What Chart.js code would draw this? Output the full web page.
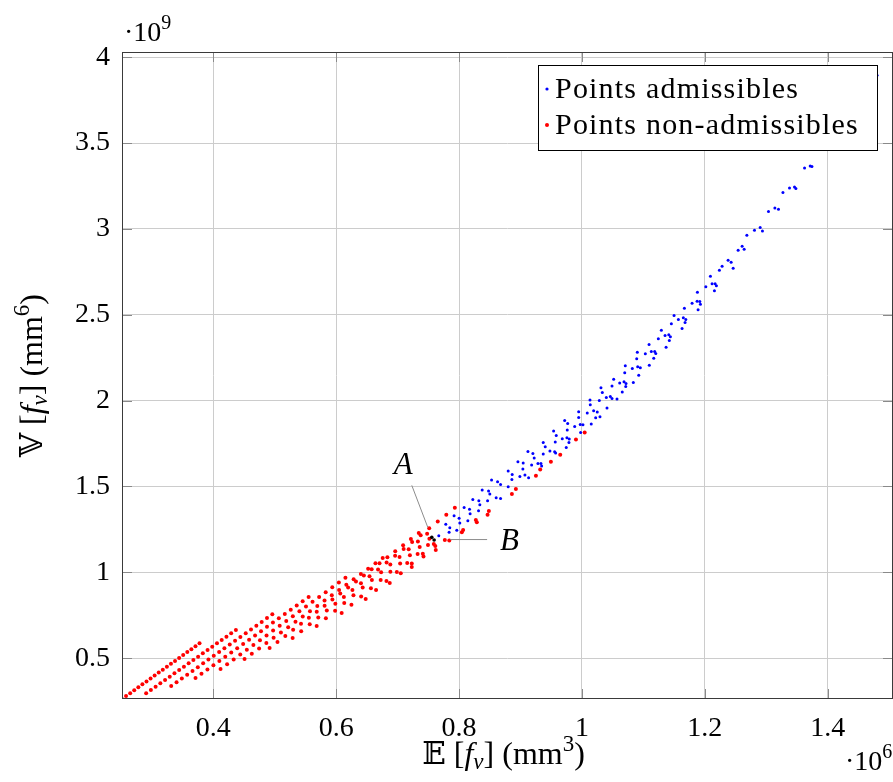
<!DOCTYPE html>
<html>
<head>
<meta charset="utf-8">
<script src="https://cdn.jsdelivr.net/npm/chart.js@4.4.1/dist/chart.umd.min.js"></script>
<style>
html, body { margin: 0; padding: 0; background: #fff; overflow: hidden; }
#wrap { width: 893px; height: 782px; overflow: hidden; }
</style>
</head>
<body>
<div id="wrap"><canvas id="myChart" width="897" height="782"></canvas></div>
<script>
// values in units of 10^6 mm^3 (x) and 10^9 mm^6 (y)

const xTicks = [0.4, 0.6, 0.8, 1, 1.2, 1.4];
const yTicks = [0.5, 1, 1.5, 2, 2.5, 3, 3.5, 4];

// non-admissible points (red)
const xNon = [
  0.2513, 0.2579, 0.2646, 0.2712, 0.2779, 0.2845, 0.2912, 0.2978, 0.3044, 0.3111, 0.3177, 0.3244, 0.3310, 0.3376, 0.3443, 0.3509, 0.3576, 0.3642, 0.3709, 0.3775,
  0.2906, 0.2983, 0.3060, 0.3137, 0.3214, 0.3290, 0.3367, 0.3444, 0.3521, 0.3598, 0.3675, 0.3752, 0.3829, 0.3906, 0.3982, 0.4059, 0.4136, 0.4213, 0.4290, 0.4367,
  0.3314, 0.3401, 0.3487, 0.3574, 0.3661, 0.3747, 0.3834, 0.3920, 0.4007, 0.4094, 0.4180, 0.4267, 0.4354, 0.4440, 0.4527, 0.4613, 0.4700, 0.4787, 0.4873, 0.4960,
  0.3710, 0.3807, 0.3904, 0.4001, 0.4098, 0.4194, 0.4291, 0.4388, 0.4485, 0.4582, 0.4679, 0.4776, 0.4873, 0.4970, 0.5066, 0.5163, 0.5260, 0.5357, 0.5454, 0.5551,
  0.4117, 0.4224, 0.4331, 0.4438, 0.4545, 0.4652, 0.4759, 0.4866, 0.4973, 0.5080, 0.5187, 0.5294, 0.5401, 0.5508, 0.5615, 0.5722, 0.5829, 0.5936, 0.6043, 0.6150,
  0.4508, 0.4626, 0.4745, 0.4863, 0.4981, 0.5100, 0.5218, 0.5337, 0.5455, 0.5573, 0.5692, 0.5810, 0.5928, 0.6047, 0.6165, 0.6284, 0.6402, 0.6520, 0.6639, 0.6757,
  0.4916, 0.5044, 0.5172, 0.5299, 0.5427, 0.5555, 0.5683, 0.5811, 0.5938, 0.6066, 0.6194, 0.6322, 0.6450, 0.6577, 0.6705, 0.6833, 0.6961, 0.7089, 0.7216, 0.7344,
  0.5291, 0.5430, 0.5569, 0.5708, 0.5847, 0.5986, 0.6125, 0.6264, 0.6403, 0.6542, 0.6681, 0.6820, 0.6959, 0.7098, 0.7236, 0.7375, 0.7514, 0.7653, 0.7792, 0.7931,
  0.5682, 0.5832, 0.5982, 0.6131, 0.6281, 0.6431, 0.6581, 0.6731, 0.6881, 0.7031, 0.7180, 0.7330, 0.7480,
  0.6089, 0.6248, 0.6406, 0.6565, 0.6724, 0.6882, 0.7041, 0.7200, 0.7359, 0.7517,
  0.6480, 0.6649, 0.6818, 0.6987, 0.7156, 0.7325, 0.7494,
  0.6872, 0.7051, 0.7230, 0.7410, 0.7589,
  0.7230, 0.7421, 0.7613,
  0.7621,
  0.7768, 0.7841, 0.8045, 0.8066, 0.8273, 0.8289, 0.8464, 0.8485, 0.8860, 0.8925,
  0.9251, 0.9321, 0.9495, 0.9647, 0.9903, 1.0045
];
const yNon = [
  0.2625, 0.2796, 0.2966, 0.3137, 0.3308, 0.3478, 0.3649, 0.3819, 0.3990, 0.4161, 0.4331, 0.4502, 0.4673, 0.4843, 0.5014, 0.5184, 0.5355, 0.5526, 0.5696, 0.5867,
  0.2957, 0.3151, 0.3345, 0.3539, 0.3733, 0.3926, 0.4120, 0.4314, 0.4508, 0.4702, 0.4896, 0.5090, 0.5284, 0.5478, 0.5671, 0.5865, 0.6059, 0.6253, 0.6447, 0.6641,
  0.3382, 0.3602, 0.3821, 0.4041, 0.4261, 0.4480, 0.4700, 0.4920, 0.5139, 0.5359, 0.5578, 0.5798, 0.6018, 0.6237, 0.6457, 0.6677, 0.6896, 0.7116, 0.7336, 0.7555,
  0.3848, 0.4096, 0.4344, 0.4592, 0.4840, 0.5089, 0.5337, 0.5585, 0.5833, 0.6081, 0.6329, 0.6577, 0.6825, 0.7073, 0.7321, 0.7570, 0.7818, 0.8066, 0.8314, 0.8562,
  0.4371, 0.4651, 0.4930, 0.5210, 0.5490, 0.5770, 0.6049, 0.6329, 0.6609, 0.6889, 0.7168, 0.7448, 0.7728, 0.8008, 0.8287, 0.8567, 0.8847, 0.9127, 0.9406, 0.9686,
  0.4953, 0.5262, 0.5572, 0.5881, 0.6191, 0.6500, 0.6810, 0.7119, 0.7429, 0.7738, 0.8047, 0.8357, 0.8666, 0.8976, 0.9285, 0.9595, 0.9904, 1.0214, 1.0523, 1.0832,
  0.5594, 0.5946, 0.6299, 0.6651, 0.7003, 0.7356, 0.7708, 0.8060, 0.8413, 0.8765, 0.9117, 0.9470, 0.9822, 1.0174, 1.0527, 1.0879, 1.1231, 1.1584, 1.1936, 1.2288,
  0.6176, 0.6575, 0.6974, 0.7373, 0.7773, 0.8172, 0.8571, 0.8970, 0.9369, 0.9768, 1.0168, 1.0567, 1.0966, 1.1365, 1.1764, 1.2163, 1.2562, 1.2962, 1.3361, 1.3760,
  0.6874, 0.7321, 0.7769, 0.8216, 0.8663, 0.9111, 0.9558, 1.0005, 1.0453, 1.0900, 1.1347, 1.1795, 1.2242,
  0.7631, 0.8112, 0.8593, 0.9074, 0.9555, 1.0036, 1.0517, 1.0998, 1.1479, 1.1960,
  0.8446, 0.8970, 0.9494, 1.0018, 1.0542, 1.1065, 1.1589,
  0.9377, 0.9944, 1.0511, 1.1077, 1.1644,
  1.0308, 1.0924, 1.1540,
  1.1298,
  1.1880, 1.1851, 1.2328, 1.2462, 1.3044, 1.2910, 1.3353, 1.3568, 1.4558, 1.4849,
  1.5623, 1.5995, 1.6438, 1.6845, 1.7742, 1.8149
];

// admissible points (blue)
const xAdm = [
  0.7670, 0.7784, 0.7849, 0.7838, 0.7919, 0.7963, 0.8001, 0.8012, 0.8082, 0.8143,
  0.8170, 0.8180, 0.8224, 0.8317, 0.8322, 0.8338, 0.8376, 0.8464, 0.8480, 0.8529,
  0.8627, 0.8676, 0.8800, 0.8501, 0.8604, 0.8676, 0.8800,
  1.0310, 1.0332, 1.0397, 1.0131, 1.0283, 1.0136, 1.0408, 0.9947, 1.0191, 1.0250,
  1.0087, 0.9947, 1.0294, 1.0224, 0.9719, 0.9768, 0.9973, 1.0017, 0.9882, 1.0152,
  0.9761, 0.9539, 0.9582, 0.9979, 0.9680, 0.9756, 0.9794, 0.9566, 0.9789, 0.9370,
  0.9403, 0.9745, 0.9121, 0.9202, 0.9479, 0.9556, 0.9572, 0.9223, 0.9370, 0.8958,
  0.9044, 0.9284, 0.9333, 0.9344, 0.9181, 0.9039, 0.8865, 0.8990, 0.9072, 0.9132,
  0.8860,
  1.2238, 1.2092, 1.2017, 1.2119, 1.2168, 1.2189, 1.2157, 1.1880, 1.1793, 1.1875,
  1.1919, 1.1929, 1.1891, 1.1668, 1.1500, 1.1570, 1.1651, 1.1691, 1.1679, 1.1630,
  1.1456, 1.1293, 1.1353, 1.1414, 1.1440, 1.1423, 1.1244, 1.1370, 1.1093, 1.1032,
  1.1130, 1.1185, 1.1202, 1.1169, 1.0902, 1.0892, 1.1097, 1.0706, 1.0820, 1.0908,
  1.0951, 1.0925, 1.0697, 1.0517, 1.0615, 1.0685, 1.0718, 1.0713, 1.0837, 1.0490,
  1.0657, 1.0462, 1.0490, 1.0571,
  1.2282, 1.2380, 1.2429, 1.2462, 1.2543, 1.2608, 1.2641,
  1.2685, 1.2809, 1.2902, 1.2939, 1.3037, 1.3141, 1.3200, 1.3272, 1.3379, 1.3461,
  1.3483, 1.3624, 1.3716, 1.3744, 1.4804, 1.5064
];
const yAdm = [
  1.2130, 1.2794, 1.2596, 1.2328, 1.3295, 1.2445, 1.3143, 1.2870, 1.3783, 1.3004,
  1.3667, 1.3411, 1.4249, 1.3586, 1.4168, 1.3935, 1.4790, 1.4168, 1.4732, 1.5373,
  1.5274, 1.5122, 1.4983, 1.4558, 1.4342, 1.4307, 1.5896,
  2.0745, 2.0477, 2.0186, 2.0029, 2.0012, 1.9756, 1.9563, 1.9348, 1.9406, 1.9331,
  1.9272, 1.9022, 1.9057, 1.8999, 1.8848, 1.8673, 1.8615, 1.8591, 1.8498, 1.8632,
  1.8283, 1.8225, 1.7974, 1.8149, 1.7776, 1.7835, 1.7759, 1.7584, 1.7567, 1.7567,
  1.7311, 1.7276, 1.7043, 1.6927, 1.7061, 1.7020, 1.6944, 1.6653, 1.6886, 1.6438,
  1.6362, 1.6345, 1.6345, 1.6187, 1.6246, 1.6013, 1.5704, 1.5588, 1.5664, 1.5506,
  1.5413,
  2.7596, 2.7247, 2.6624, 2.6799, 2.6799, 2.6682, 2.6391, 2.6316, 2.5675, 2.5792,
  2.5774, 2.5617, 2.5285, 2.5384, 2.4959, 2.4726, 2.4820, 2.4726, 2.4552, 2.4203,
  2.4470, 2.4104, 2.3795, 2.3830, 2.3714, 2.3504, 2.3597, 2.3114, 2.3271, 2.2724,
  2.2864, 2.2864, 2.2747, 2.2474, 2.2823, 2.2433, 2.2066, 2.2026, 2.1874, 2.1967,
  2.1909, 2.1484, 2.1618, 2.1251, 2.1019, 2.1094, 2.1001, 2.0827, 2.1059, 2.0844,
  2.0495, 2.0245, 2.0128, 2.0087,
  2.7829, 2.8178, 2.8062, 2.7713, 2.8760, 2.8993, 2.8818,
  2.9633, 2.9924, 3.0082, 2.9884, 3.1013, 3.1223, 3.1147, 3.2119, 3.2387, 3.2445,
  3.2352, 3.3551, 3.3667, 3.3632, 3.8947, 4.0300
];

// points A and B
const xAB = [0.7556, 0.7594];
const yAB = [1.2037, 1.1880];

function pts(xs, ys) {
  let out = [];
  for (let i = 0; i < Math.min(xs.length, ys.length); i++) out.push({x: xs[i], y: ys[i]});
  return out;
}

const SERIF = '"Liberation Serif", "Times New Roman", serif';

// draws a list of text pieces one after another (for sub/superscripts)
function rich(ctx, parts, x, y, align) {
  let w = 0;
  parts.forEach(p => { ctx.font = p.f; w += ctx.measureText(p.t).width; });
  let cx = align === 'center' ? x - w / 2 : x;
  parts.forEach(p => {
    ctx.font = p.f;
    ctx.fillText(p.t, cx, y + (p.dy || 0));
    cx += ctx.measureText(p.t).width;
  });
}

function titleParts(letter, power) {
  return [
    {t: letter, f: '31px "DejaVu Serif"'},
    {t: ' [', f: '32px ' + SERIF},
    {t: 'f', f: 'italic 32px ' + SERIF},
    {t: 'v', f: 'italic 23px ' + SERIF, dy: 5},
    {t: '] (mm', f: '32px ' + SERIF},
    {t: power, f: '23px ' + SERIF, dy: -13},
    {t: ')', f: '32px ' + SERIF}
  ];
}

const decor = {
  id: 'decor',
  afterDatasetsDraw(chart) {
    const ctx = chart.ctx, a = chart.chartArea;
    const sx = chart.scales.x, sy = chart.scales.y;
    ctx.save();

    // tick marks on all four sides, inside
    ctx.strokeStyle = '#8a8a8a';
    ctx.lineWidth = 1;
    ctx.beginPath();
    xTicks.forEach(v => {
      const p = Math.round(sx.getPixelForValue(v)) + 0.5;
      ctx.moveTo(p, a.bottom); ctx.lineTo(p, a.bottom - 10);
      ctx.moveTo(p, a.top); ctx.lineTo(p, a.top + 10);
    });
    yTicks.forEach(v => {
      const p = Math.round(sy.getPixelForValue(v)) + 0.5;
      ctx.moveTo(a.left, p); ctx.lineTo(a.left + 10, p);
      ctx.moveTo(a.right, p); ctx.lineTo(a.right - 10, p);
    });
    ctx.stroke();

    // frame
    ctx.strokeStyle = '#3a3a3a';
    ctx.strokeRect(a.left + 0.5, a.top + 0.5, a.right - a.left - 1, a.bottom - a.top - 1);

    // annotations for A and B
    const ax = sx.getPixelForValue(xAB[0]), ay = sy.getPixelForValue(yAB[0]);
    const bx = sx.getPixelForValue(xAB[1]), by = sy.getPixelForValue(yAB[1]);
    ctx.strokeStyle = '#8c8c8c';
    ctx.beginPath();
    ctx.moveTo(ax - 4, ay - 10); ctx.lineTo(ax - 20, ay - 52);
    ctx.moveTo(bx + 16, by - 0.5); ctx.lineTo(bx + 53, by - 0.5);
    ctx.stroke();
    ctx.fillStyle = '#000';
    ctx.textBaseline = 'alphabetic';
    ctx.font = 'italic 31px ' + SERIF;
    ctx.fillText('A', ax - 38, ay - 63);
    ctx.fillText('B', bx + 66, by + 10);

    ctx.restore();
  },
  afterDraw(chart) {
    const ctx = chart.ctx, a = chart.chartArea;
    ctx.save();
    ctx.fillStyle = '#000';
    ctx.textBaseline = 'alphabetic';
    ctx.textAlign = 'left';

    // legend, anchored to the top right corner of the plot
    const lw = 339, lh = 85;
    const lx = a.right - 16 - lw, ly = a.top + 13;
    ctx.fillStyle = '#fff';
    ctx.fillRect(lx, ly, lw, lh);
    ctx.strokeStyle = '#000';
    ctx.lineWidth = 1;
    ctx.strokeRect(lx + 0.5, ly + 0.5, lw, lh);
    ctx.fillStyle = 'rgb(0,0,255)';
    ctx.beginPath(); ctx.arc(lx + 9, ly + 24, 1.6, 0, Math.PI * 2); ctx.fill();
    ctx.fillStyle = 'rgb(255,0,0)';
    ctx.beginPath(); ctx.arc(lx + 9, ly + 60, 2.0, 0, Math.PI * 2); ctx.fill();
    ctx.fillStyle = '#000';
    ctx.font = '30px ' + SERIF;
    ctx.letterSpacing = '1.2px';
    ctx.fillText('Points admissibles', lx + 17, ly + 33);
    ctx.fillText('Points non-admissibles', lx + 17, ly + 69);
    ctx.letterSpacing = '0px';

    // axis multipliers
    rich(ctx, [{t: '\u00b710', f: '28px ' + SERIF}, {t: '9', f: '20px ' + SERIF, dy: -12}], 124, 41, 'left');
    rich(ctx, [{t: '\u00b710', f: '28px ' + SERIF}, {t: '6', f: '20px ' + SERIF, dy: -12}], 845, 770, 'left');

    // x axis title
    rich(ctx, titleParts('\u{1D53C}', '3'), (a.left + a.right) / 2 - 4, 764, 'center');

    // y axis title
    ctx.translate(42, (a.top + a.bottom) / 2);
    ctx.rotate(-Math.PI / 2);
    rich(ctx, titleParts('\u{1D54D}', '6'), 0, 0, 'center');
    ctx.restore();
  }
};

var ctx = document.getElementById('myChart');

var myChart = new Chart(ctx, {
  type: 'scatter',
  data: {
    datasets: [
      {label: 'A, B', data: pts(xAB, yAB), backgroundColor: '#000', pointRadius: 1.8, borderWidth: 0},
      {label: 'Points non-admissibles', data: pts(xNon, yNon), backgroundColor: 'rgb(255,0,0)', pointRadius: 2.0, borderWidth: 0},
      {label: 'Points admissibles', data: pts(xAdm, yAdm), backgroundColor: 'rgb(0,0,255)', pointRadius: 1.5, borderWidth: 0}
    ]
  },
  options: {
    responsive: false,
    animation: false,
    layout: {padding: {top: 52, right: 0, left: 0, bottom: 0}},
    plugins: {legend: {display: false}, tooltip: {enabled: false}},
    scales: {
      x: {
        type: 'linear', min: 0.2513, max: 1.5064,
        afterBuildTicks: s => { s.ticks = xTicks.map(v => ({value: v})); },
        afterFit: s => { s.height = 83; s.paddingLeft = 0; s.paddingRight = 0; },
        grid: {color: '#cccccc', drawTicks: false},
        border: {display: false},
        ticks: {
          color: '#000', padding: 13, maxRotation: 0,
          font: {family: SERIF, size: 28},
          callback: v => String(+(+v).toFixed(1))
        }
      },
      y: {
        type: 'linear', min: 0.2625, max: 4.03,
        afterBuildTicks: s => { s.ticks = yTicks.map(v => ({value: v})); },
        afterFit: s => { s.width = 122; s.paddingTop = 0; s.paddingBottom = 0; },
        grid: {color: '#cccccc', drawTicks: false},
        border: {display: false},
        ticks: {
          color: '#000', padding: 12,
          font: {family: SERIF, size: 28},
          callback: v => String(+(+v).toFixed(1))
        }
      }
    }
  },
  plugins: [decor]
});
</script>
</body>
</html>
